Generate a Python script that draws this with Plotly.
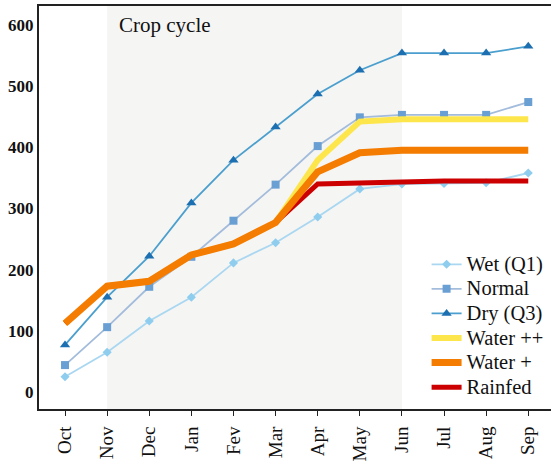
import plotly.graph_objects as go

months = ["Oct", "Nov", "Dec", "Jan", "Fev", "Mar", "Apr", "May", "Jun", "Jul", "Aug", "Sep"]
wet = [25, 65, 116, 155, 211, 244, 286, 332, 340, 341, 342, 358]
normal = [44, 106, 172, 221, 280, 339, 402, 449, 453, 453, 453, 474]
dry = [77, 155, 222, 309, 379, 433, 487, 526, 554, 554, 554, 565]
water_pp = [112, 173, 181, 224, 242, 277, 379, 442, 446, 446, 446, 446]
water_p = [112, 173, 181, 224, 242, 277, 360, 391, 395, 395, 395, 395]
rainfed = [112, 173, 181, 224, 242, 277, 340, 342, 345, 345, 345, 345]
y_ticks = [0, 100, 200, 300, 400, 500, 600]

x = list(range(len(months)))
serif = "Liberation Serif"


def big(name):
    return f"<span style='font-size:20.5px'>{name}</span>"


fig = go.Figure()
fig.add_trace(go.Scatter(x=x, y=wet, name=big("Wet (Q1)"), mode="lines+markers",
                         line=dict(color="#a9d7f1", width=1.8),
                         marker=dict(symbol="diamond", size=7, color="#8fcdee"),
                         legendrank=1))
fig.add_trace(go.Scatter(x=x, y=normal, name=big("Normal"), mode="lines+markers",
                         line=dict(color="#a3bcdc", width=1.8),
                         marker=dict(symbol="square", size=8, color="#6a9fd4"),
                         legendrank=2))
fig.add_trace(go.Scatter(x=x, y=dry, name=big("Dry (Q3)"), mode="lines+markers",
                         line=dict(color="#4b9fce", width=1.8),
                         marker=dict(symbol="triangle-up", size=9, color="#1c6fb0"),
                         legendrank=3))
fig.add_trace(go.Scatter(x=x, y=water_pp, name=big("Water ++"), mode="lines",
                         line=dict(color="#fde64b", width=6), legendrank=4))
fig.add_trace(go.Scatter(x=x, y=rainfed, name=big("Rainfed"), mode="lines",
                         line=dict(color="#cc0000", width=5), legendrank=6))
fig.add_trace(go.Scatter(x=x, y=water_p, name=big("Water +"), mode="lines",
                         line=dict(color="#f47c00", width=7), legendrank=5))

fig.add_shape(type="rect", xref="x", yref="paper", x0=1, x1=8, y0=0, y1=1,
              fillcolor="#f5f5f3", line=dict(width=0), layer="below")
fig.add_annotation(text="Crop cycle", xref="x", yref="y", x=1.24, y=600,
                   xanchor="left", yanchor="middle", showarrow=False,
                   font=dict(family=serif, size=21, color="#111"))

fig.update_layout(
    width=551, height=462,
    margin=dict(l=39, r=0, t=6, b=53),
    paper_bgcolor="white", plot_bgcolor="white",
    showlegend=True,
    legend=dict(x=0.757, y=0.402, xanchor="left", yanchor="top",
                bgcolor="rgba(0,0,0,0)", font=dict(family=serif, size=16.6, color="#111"),
                tracegroupgap=0, itemwidth=30),
    xaxis=dict(range=[-0.618, 11.54], tickmode="array", tickvals=x, ticktext=months,
               tickangle=-90, ticks="outside", ticklen=5, tickcolor="#222",
               ticklabelstandoff=3,
               showline=True, linecolor="#222", linewidth=2, mirror=True,
               showgrid=False, zeroline=False, automargin=False,
               tickfont=dict(family=serif, size=19, color="#111")),
    yaxis=dict(range=[-27.8, 631], tickmode="array", tickvals=y_ticks,
               showline=True, linecolor="#222", linewidth=2, ticks="",
               showgrid=False, zeroline=False, automargin=False,
               tickfont=dict(family=serif, size=17, color="#111", weight=700)),
)

fig.write_html("out.html", config={"displayModeBar": False},
               post_script="document.body.style.margin='0';document.body.style.overflow='hidden';")
